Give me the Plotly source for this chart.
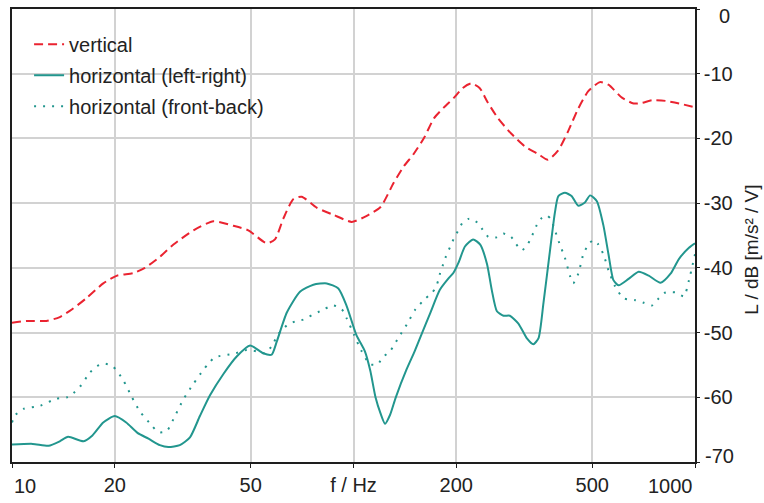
import plotly.graph_objects as go

# Frequency response of the sensor, level in dB re 1 (m/s²)/V
freq_vertical = [10, 11.0, 12.6, 13.8, 15.0, 16.5, 18.5, 20.3, 22.7, 24.5, 27.1, 29.7, 34.0,
                 38.9, 44.5, 49.2, 55.7, 58.9, 62.3, 66.6, 70.5, 78.0, 87.3, 98.8, 109, 120,
                 131, 140, 150, 161, 172, 184, 197, 209, 221, 234, 247, 265, 289, 317, 347,
                 371, 397, 425, 455, 487, 527, 558, 611, 661, 700, 749, 820, 898, 1000]
level_vertical = [-48.5, -48.2, -48.2, -47.6, -46.4, -44.7, -42.4, -41.2, -40.8, -40.0, -38.3,
                  -36.4, -34.2, -32.8, -33.5, -34.2, -36.2, -35.6, -32.4, -29.4, -29.0, -30.7,
                  -31.8, -32.9, -32.0, -30.6, -26.9, -24.4, -22.4, -19.9, -16.9, -15.2, -13.7,
                  -12.2, -11.5, -12.2, -14.4, -16.9, -19.2, -21.2, -22.4, -23.3, -21.9, -18.9,
                  -15.4, -12.7, -11.3, -11.7, -13.7, -14.6, -14.5, -14.1, -14.2, -14.6, -15.2]

freq_lr = [10, 11.5, 12.8, 13.8, 14.6, 16.2, 17.2, 18.5, 20.0, 21.6, 23.3, 25.1, 27.1, 28.7,
           31.0, 33.2, 35.5, 38.0, 41.6, 45.5, 49.8, 54.4, 57.6, 59.6, 63.8, 69.7, 76.3, 83.5,
           90.3, 95.5, 102, 108, 112, 116, 120, 123.7, 128, 133, 143, 151, 157, 168, 179, 190,
           196, 203, 212, 224, 235, 246, 254, 263, 275, 287, 304, 322, 336, 348, 360, 376,
           389, 398, 416, 435, 455, 476, 493, 516, 539, 558, 577, 597, 639, 684, 732, 793,
           848, 898, 960, 1000]
level_lr = [-67.3, -67.2, -67.5, -66.8, -66.1, -66.8, -65.9, -63.9, -62.9, -63.9, -65.5, -66.4,
            -67.4, -67.7, -67.4, -66.2, -62.9, -59.7, -56.4, -53.7, -52.0, -53.2, -53.4, -51.4,
            -46.9, -43.7, -42.6, -42.4, -43.2, -45.9, -50.4, -52.9, -55.9, -60.0, -62.5, -64.1,
            -62.7, -60.0, -55.7, -52.9, -50.7, -46.9, -43.4, -41.6, -40.8, -39.2, -36.7, -35.6,
            -36.4, -39.4, -43.4, -46.7, -47.4, -47.4, -48.6, -50.9, -51.8, -50.9, -45.4, -37.4,
            -31.4, -28.9, -28.4, -28.9, -30.4, -29.9, -28.8, -29.7, -33.4, -37.9, -41.9, -42.7,
            -41.7, -40.6, -41.2, -42.3, -40.9, -38.6, -36.9, -36.2]

freq_fb = [10, 10.2, 10.8, 12.1, 13.5, 14.5, 15.1, 15.8, 16.9, 17.7, 18.7, 19.8, 21.2, 22.4,
           23.7, 25.7, 26.8, 28.4, 30.0, 31.7, 34.0, 36.3, 37.6, 39.3, 44.5, 48.7, 52.1, 55.1,
           57.6, 60.3, 63.8, 67.4, 71.3, 75.5, 79.8, 87.3, 92.4, 95.5, 100.3, 105.2, 111.8, 118,
           121.2, 127.9, 135.7, 143.4, 151.9, 162.0, 169.4, 174.4, 177.1, 180, 183.2, 186.6,
           191.7, 197, 202.8, 208.8, 218.3, 230.4, 238.9, 248.1, 261.5, 274.7, 289.2, 299.1,
           310.8, 321.6, 331, 344, 355.8, 368, 378.8, 386.6, 393.6, 400.6, 415.7, 430.2, 439.9,
           455.3, 470.9, 487.1, 504.1, 521.4, 539.3, 558.2, 583.9, 617.9, 668.8, 707.8, 748.5,
           783.4, 819.7, 877.6, 928.7, 960.3, 1000]
level_fb = [-63.9, -62.8, -61.8, -61.3, -60.2, -60.0, -59.4, -58.4, -56.2, -55.2, -54.8, -55.3,
            -57.4, -59.9, -62.2, -64.4, -65.4, -65.2, -62.9, -60.4, -57.9, -55.8, -54.8, -53.8,
            -53.3, -52.7, -52.9, -53.2, -52.1, -50.2, -48.9, -48.3, -48.0, -47.3, -46.7, -45.8,
            -46.4, -47.8, -50.3, -52.7, -54.9, -54.9, -53.9, -52.9, -50.7, -48.7, -46.4, -44.8,
            -43.9, -43.0, -41.9, -40.5, -39.4, -38.2, -36.8, -35.4, -34.2, -33.0, -32.4, -33.0,
            -34.1, -35.2, -35.3, -34.7, -35.2, -36.3, -37.3, -36.6, -35.4, -33.4, -32.3, -31.9,
            -32.5, -33.8, -35.0, -36.2, -38.4, -41.2, -42.4, -40.9, -37.9, -36.4, -35.7, -36.4,
            -37.9, -40.4, -42.9, -44.7, -45.0, -45.4, -45.8, -44.7, -43.8, -43.8, -44.4, -41.9,
            -37.9]

x_tick_vals = [10, 20, 50, 100, 200, 500, 1000]
x_tick_text = ["", "20", "50", "f / Hz", "200", "500", ""]
y_tick_vals = [-70, -60, -50, -40, -30, -20, -10, 0]
y_tick_text = ["", "-60", "-50", "-40", "-30", "-20", "-10", ""]

RED = "#ea2330"
TEAL = "#22968e"
AXIS = "#1e1e1e"
GRID = "#d2d2d2"
TEXT = "#222222"
FONT = "Liberation Sans, Arial, Helvetica, sans-serif"

fig = go.Figure()
fig.add_trace(go.Scatter(
    x=freq_vertical, y=level_vertical, mode="lines", name="vertical", legendgroup="v",
    line=dict(color=RED, width=2, dash="9px,5px", shape="spline", smoothing=0.6)))
fig.add_trace(go.Scatter(
    x=freq_lr, y=level_lr, mode="lines", name="horizontal (left-right)", legendgroup="lr",
    line=dict(color=TEAL, width=2, shape="spline", smoothing=0.6)))
fig.add_trace(go.Scatter(
    x=freq_fb, y=level_fb, mode="lines", name="horizontal (front-back)", legendgroup="fb",
    line=dict(color=TEAL, width=2, dash="2px,7px", shape="spline", smoothing=0.6)))

fig.update_layout(
    width=764, height=503,
    margin=dict(l=12, r=69, t=7, b=30),
    paper_bgcolor="white", plot_bgcolor="white",
    font=dict(family=FONT, size=20, color=TEXT),
    showlegend=True,
    legend=dict(x=0.025, y=0.965, xanchor="left", yanchor="top",
                bgcolor="rgba(0,0,0,0)", font=dict(size=20),
                traceorder="grouped", tracegroupgap=2),
)

fig.update_xaxes(
    type="log", range=[1, 3],
    tickvals=x_tick_vals, ticktext=x_tick_text,
    showgrid=True, gridcolor=GRID, gridwidth=1.5,
    showline=True, linecolor=AXIS, linewidth=1.5, mirror=True,
    ticks="outside", ticklen=4, tickcolor=AXIS, zeroline=False,
)
fig.update_yaxes(
    range=[-70, 0], side="right",
    tickvals=y_tick_vals, ticktext=y_tick_text,
    showgrid=True, gridcolor=GRID, gridwidth=1.5,
    showline=True, linecolor=AXIS, linewidth=1.5, mirror=True,
    ticks="outside", ticklen=3, tickcolor=AXIS, zeroline=False,
)

# End labels sit inside the axis span
end_labels = [
    dict(text="10", x=0, y=-0.052, xanchor="left", yanchor="middle"),
    dict(text="1000", x=1, y=-0.052, xanchor="right", yanchor="middle"),
    dict(text="0", x=1.054, y=0.985, xanchor="right", yanchor="middle"),
    dict(text="-70", x=1.011, y=0.0135, xanchor="left", yanchor="middle"),
]
for lab in end_labels:
    fig.add_annotation(xref="paper", yref="paper", showarrow=False,
                       font=dict(family=FONT, size=20, color=TEXT), **lab)

fig.add_annotation(xref="paper", yref="paper", x=1.083, y=0.468,
                   text="L / dB [m/s² / V]", textangle=-90, showarrow=False,
                   xanchor="center", yanchor="middle",
                   font=dict(family=FONT, size=19, color=TEXT))

fig.write_html("out.html")
